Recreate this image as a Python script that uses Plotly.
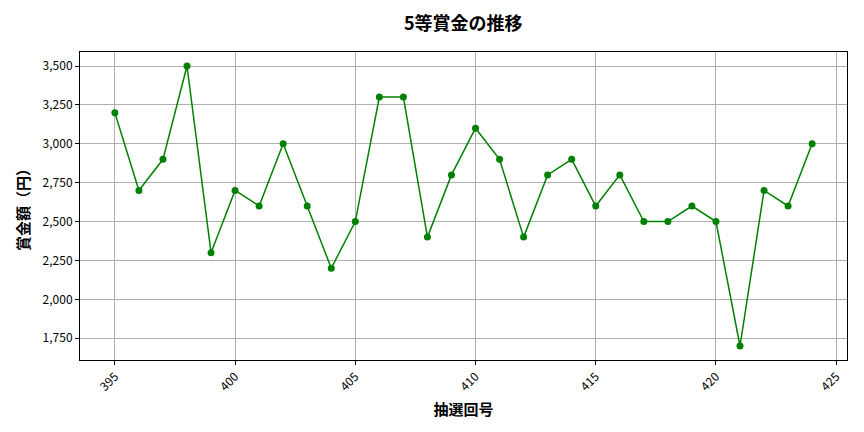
import plotly.graph_objects as go

draws = list(range(395, 425))
prizes = [3200, 2700, 2900, 3500, 2300, 2700, 2600, 3000, 2600, 2200,
          2500, 3300, 3300, 2400, 2800, 3100, 2900, 2400, 2800, 2900,
          2600, 2800, 2500, 2500, 2600, 2500, 1700, 2700, 2600, 3000]

title_text = "5等賞金の推移"
x_title = "抽選回号"
y_title = "賞金額（円）"

FONT = "Noto Sans CJK JP"

fig = go.Figure()
fig.add_trace(go.Scatter(
    x=draws, y=prizes, mode="lines+markers",
    line=dict(color="green", width=1.5),
    marker=dict(color="green", size=7),
    showlegend=False,
))

axis_common = dict(
    showline=True, linecolor="black", linewidth=1, mirror=True,
    showgrid=True, gridcolor="#b0b0b0", gridwidth=0.8,
    ticks="outside", ticklen=4, tickcolor="black",
    tickfont=dict(family=FONT, size=12, color="black"),
    zeroline=False, automargin=False,
)

fig.update_layout(
    width=864, height=432,
    margin=dict(l=72, r=25, t=44, b=80),
    paper_bgcolor="white", plot_bgcolor="white",
    font=dict(family=FONT, color="black"),
    title=dict(text="<b>" + title_text + "</b>", x=0.527, xanchor="center",
               y=0.963, yanchor="middle",
               font=dict(family=FONT, size=18, color="black")),
)
fig.update_xaxes(
    range=[393.55, 425.45], tickmode="array",
    tickvals=[395, 400, 405, 410, 415, 420, 425],
    tickangle=-45,
    title=dict(text="<b>" + x_title + "</b>", font=dict(family=FONT, size=15), standoff=11),
    **axis_common,
)
fig.update_yaxes(
    range=[1610, 3590], tickmode="array",
    tickvals=[1750, 2000, 2250, 2500, 2750, 3000, 3250, 3500],
    tickformat=",d",
    title=dict(text="<b>" + y_title + "</b>", font=dict(family=FONT, size=15), standoff=9),
    **axis_common,
)

fig.write_html("out.html")
